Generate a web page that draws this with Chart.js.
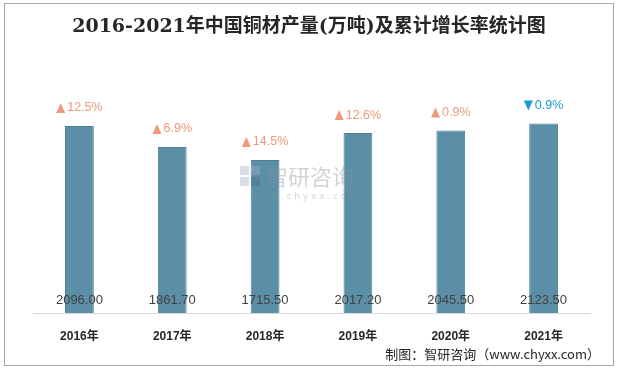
<!DOCTYPE html>
<html>
<head>
<meta charset="utf-8">
<script src="https://cdn.jsdelivr.net/npm/chart.js@4"></script>
<style>
  html, body { margin: 0; padding: 0; background: #fff; }
  #wrap { width: 618px; height: 369px; position: relative; }
</style>
</head>
<body>
<div id="wrap"><canvas id="grafico" width="618" height="369"></canvas></div>
<script>
// Datos
const anios = ['2016年', '2017年', '2018年', '2019年', '2020年', '2021年'];
const produccion = [2096.00, 1861.70, 1715.50, 2017.20, 2045.50, 2123.50];
const crecimiento = ['12.5%', '6.9%', '14.5%', '12.6%', '0.9%', '0.9%'];
const direccion = ['up', 'up', 'up', 'up', 'up', 'down'];

const titulo = '2016-2021年中国铜材产量(万吨)及累计增长率统计图';
const fuente = '制图：智研咨询（www.chyxx.com）';

// Plugin: marco, título, etiquetas, marca de agua y fuente
const decoraciones = {
    id: 'decoraciones',
    beforeDraw(chart) {
        const c = chart.ctx;
        c.save();
        c.fillStyle = '#fff';
        c.fillRect(0, 0, chart.width, chart.height);
        c.strokeStyle = '#a6a6a6';
        c.lineWidth = 1;
        c.strokeRect(4.5, 3.5, 609, 362);
        c.restore();
    },
    afterDatasetsDraw(chart) {
        // marca de agua (semi transparente, encima de las barras)
        const c = chart.ctx;
        c.save();
        c.globalAlpha = 0.4;
        c.fillStyle = '#9fb0c8';
        c.fillRect(240, 166, 9, 9);
        c.fillRect(251, 166, 9, 9);
        c.fillRect(240, 177, 9, 9);
        c.fillStyle = '#4f6784';
        c.fillRect(251, 177, 9, 9);
        c.fillStyle = '#8a939e';
        c.font = '22px "Noto Sans CJK SC"';
        c.textBaseline = 'middle';
        c.textAlign = 'left';
        c.fillText('智研咨询', 266, 177);
        c.font = '9px "DejaVu Sans"';
        c.fillText('w w w . c h y x x . c o m', 250, 197);
        c.restore();
    },
    afterDraw(chart) {
        const c = chart.ctx;
        const meta = chart.getDatasetMeta(0);
        c.save();
        c.fillStyle = '#262626';
        c.font = 'bold 19px "DejaVu Serif", "Noto Sans CJK SC"';
        c.textAlign = 'center';
        c.textBaseline = 'middle';
        c.fillText(titulo, 309, 27);

        meta.data.forEach((bar, i) => {
            // valor dentro de la barra
            c.fillStyle = '#404040';
            c.font = '13px "Liberation Sans"';
            c.textAlign = 'center';
            c.fillText(produccion[i].toFixed(2), bar.x, 300);

            // crecimiento sobre la barra
            const sube = direccion[i] === 'up';
            const color = sube ? '#f0997b' : '#1a9bd7';
            c.font = '12.5px "Liberation Sans"';
            const txt = crecimiento[i];
            const w = c.measureText(txt).width;
            const tri = 9;
            const total = tri + 2 + w;
            const x0 = bar.x - total / 2;
            const y = bar.y - 18;
            c.fillStyle = color;
            c.beginPath();
            if (sube) {
                c.moveTo(x0, y + 5);
                c.lineTo(x0 + tri, y + 5);
                c.lineTo(x0 + tri / 2, y - 5);
            } else {
                c.moveTo(x0, y - 5);
                c.lineTo(x0 + tri, y - 5);
                c.lineTo(x0 + tri / 2, y + 5);
            }
            c.closePath();
            c.fill();
            c.textAlign = 'left';
            c.fillText(txt, x0 + tri + 2, y);
        });

        c.fillStyle = '#262626';
        c.font = '13px "Noto Sans CJK SC"';
        c.textAlign = 'right';
        c.fillText(fuente, 600, 354);
        c.restore();
    }
};

new Chart(document.getElementById('grafico'), {
    type: 'bar',
    data: {
        labels: anios,
        datasets: [{
            data: produccion,
            backgroundColor: '#5b8fa8',
            borderColor: '#4d7f98',
            borderWidth: 1,
            borderDash: [2, 2],
            categoryPercentage: 1,
            barPercentage: 0.31
        }]
    },
    options: {
        responsive: false,
        animation: false,
        layout: { padding: { top: 90, left: 33, right: 28, bottom: 0 } },
        plugins: {
            legend: { display: false },
            title: { display: false },
            tooltip: { enabled: false }
        },
        scales: {
            x: {
                grid: { display: false, drawTicks: false },
                border: { display: true, color: '#d9d9d9', width: 1 },
                ticks: {
                    color: '#262626',
                    padding: 16,
                    font: { family: '"Liberation Sans", "Noto Sans CJK SC"', size: 12, weight: 'bold' }
                },
                afterFit(scale) { scale.height = 56; }
            },
            y: {
                display: false,
                min: 0,
                max: 2500
            }
        }
    },
    plugins: [decoraciones]
});
</script>
</body>
</html>
